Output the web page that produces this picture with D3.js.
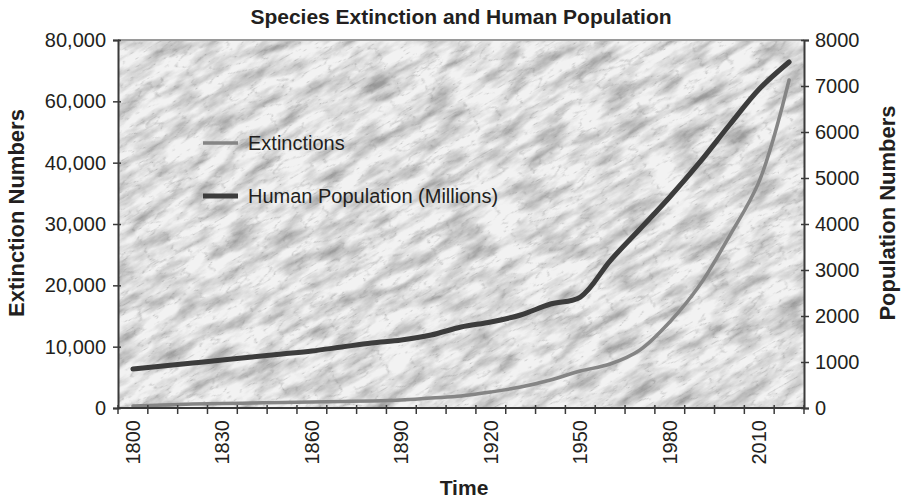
<!DOCTYPE html>
<html><head><meta charset="utf-8">
<script src="https://cdn.jsdelivr.net/npm/d3@7"></script>
<style>
html,body{margin:0;padding:0;background:#fff;}
text{font-family:"Liberation Sans",Arial,sans-serif;fill:#231f20;}
</style></head>
<body>
<svg id="c" width="902" height="503"></svg>
<script>
const years = [1800,1810,1820,1830,1840,1850,1860,1870,1880,1890,1900,1910,1920,1930,1940,1950,1960,1970,1980,1990,2000,2010,2020];
const labeledYears = [1800,1830,1860,1890,1920,1950,1980,2010];
const population = [848,913,978,1043,1109,1174,1239,1326,1413,1478,1587,1761,1870,2022,2261,2413,3200,3891,4587,5339,6152,6935,7522];
const extinctions = [330,490,650,730,815,900,980,1060,1140,1300,1630,1960,2610,3420,4570,6030,7170,9460,14030,20000,28040,37000,66950];
const leftTicks = [0,10000,20000,30000,40000,60000,80000];
const rightTicks = [0,1000,2000,3000,4000,5000,6000,7000,8000];

const svg = d3.select("#c");
const L=118, R=804, T=40, B=408;

const x = d3.scaleBand().domain(years).range([L,R]).padding(0);
const yL = d3.scaleLinear().domain(leftTicks).range(leftTicks.map((d,i)=>B-(B-T)*i/(leftTicks.length-1)));
const yR = d3.scaleLinear().domain([0,8000]).range([B,T]);

// textured background
const defs = svg.append("defs");
const f = defs.append("filter").attr("id","stone").attr("x",0).attr("y",0).attr("width",1).attr("height",1);
f.append("feTurbulence").attr("type","fractalNoise").attr("baseFrequency","0.025 0.075").attr("numOctaves",5).attr("seed",11).attr("result","n");
f.append("feColorMatrix").attr("in","n").attr("type","matrix")
 .attr("values","0 0 0 0 0  0 0 0 0 0  0 0 0 0 0  2.0 0 0 0 -0.75").attr("result","a");
f.append("feFlood").attr("flood-color","#9a9a9a").attr("result","fl");
f.append("feComposite").attr("in","fl").attr("in2","a").attr("operator","in").attr("result","dark");
f.append("feTurbulence").attr("type","turbulence").attr("baseFrequency","0.04 0.12").attr("numOctaves",3).attr("seed",3).attr("result","t");
f.append("feColorMatrix").attr("in","t").attr("type","matrix")
 .attr("values","0 0 0 0 0  0 0 0 0 0  0 0 0 0 0  -3 0 0 0 0.5").attr("result","ta");
f.append("feFlood").attr("flood-color","#8a8a8a").attr("result","fl2");
f.append("feComposite").attr("in","fl2").attr("in2","ta").attr("operator","in").attr("result","cracks");
f.append("feMerge").selectAll("feMergeNode").data(["SourceGraphic","dark","cracks"]).join("feMergeNode").attr("in",d=>d);
defs.append("clipPath").attr("id","pc").append("rect").attr("x",L).attr("y",T).attr("width",R-L).attr("height",B-T);

const bg = svg.append("g").attr("clip-path","url(#pc)");
bg.append("rect").attr("x",L).attr("y",T).attr("width",R-L).attr("height",B-T).attr("fill","#eeeeee");
bg.append("g").attr("transform",`rotate(-30 ${(L+R)/2} ${(T+B)/2})`)
  .append("rect").attr("x",L-250).attr("y",T-350).attr("width",R-L+500).attr("height",B-T+700)
  .attr("fill","#f2f2f2").attr("filter","url(#stone)");

// top border
svg.append("line").attr("x1",L).attr("x2",R).attr("y1",T).attr("y2",T).attr("stroke","#9a9a9a").attr("stroke-width",2);

// lines
const lineE = d3.line().x((d,i)=>x(years[i])+x.bandwidth()/2).y(d=>yL(d)).curve(d3.curveCatmullRom.alpha(0.5));
const lineP = d3.line().x((d,i)=>x(years[i])+x.bandwidth()/2).y(d=>yR(d)).curve(d3.curveCatmullRom.alpha(0.5));
svg.append("path").datum(extinctions).attr("d",lineE).attr("fill","none").attr("stroke","#858585").attr("stroke-width",3.5).attr("stroke-linecap","round");
svg.append("path").datum(population).attr("d",lineP).attr("fill","none").attr("stroke","#3c3c3c").attr("stroke-width",5).attr("stroke-linecap","round");

// axes
const axisColor="#3a3a3a";
const gl = svg.append("g").attr("transform",`translate(${L},0)`).call(d3.axisLeft(yL).tickValues(leftTicks).tickSize(5).tickPadding(7).tickFormat(d3.format(",")));
const gr = svg.append("g").attr("transform",`translate(${R},0)`).call(d3.axisRight(yR).tickValues(rightTicks).tickSize(5).tickPadding(6).tickFormat(d3.format("d")));
[gl,gr].forEach(g=>{
  g.select(".domain").attr("stroke",axisColor).attr("stroke-width",2);
  g.selectAll(".tick line").attr("stroke",axisColor).attr("stroke-width",1.5);
  g.selectAll(".tick text").style("font-size","20px").attr("fill","#231f20");
});
gl.selectAll(".tick line").attr("x1",3);
gr.selectAll(".tick line").attr("x1",-3);

// bottom axis
const gb = svg.append("g");
gb.append("line").attr("x1",L).attr("x2",R).attr("y1",B).attr("y2",B).attr("stroke",axisColor).attr("stroke-width",2);
gb.selectAll("line.t").data(years.concat([null])).join("line").attr("class","t")
  .attr("x1",(d,i)=> i<years.length? x(d): R).attr("x2",(d,i)=> i<years.length? x(d): R)
  .attr("y1",B-3).attr("y2",B+6).attr("stroke",axisColor).attr("stroke-width",1.5);
gb.selectAll("text").data(labeledYears).join("text")
  .attr("transform",d=>`translate(${x(d)+x.bandwidth()/2+7},${B+12}) rotate(-90)`)
  .attr("text-anchor","end").style("font-size","20px").text(d=>d);

// titles
svg.append("text").attr("x",461).attr("y",24).attr("text-anchor","middle").style("font-size","21px").style("font-weight","bold").text("Species Extinction and Human Population");
svg.append("text").attr("x",464).attr("y",495).attr("text-anchor","middle").style("font-size","21px").style("font-weight","bold").text("Time");
svg.append("text").attr("transform","translate(24,213) rotate(-90)").attr("text-anchor","middle").style("font-size","22px").style("font-weight","bold").text("Extinction Numbers");
svg.append("text").attr("transform","translate(895,213) rotate(-90)").attr("text-anchor","middle").style("font-size","22px").style("font-weight","bold").text("Population Numbers");

// legend
const leg = [{name:"Extinctions",color:"#858585",w:3.5,y:143},{name:"Human Population (Millions)",color:"#3c3c3c",w:5,y:196}];
const lg = svg.append("g");
lg.selectAll("line").data(leg).join("line").attr("x1",203).attr("x2",238).attr("y1",d=>d.y).attr("y2",d=>d.y).attr("stroke",d=>d.color).attr("stroke-width",d=>d.w);
lg.selectAll("text").data(leg).join("text").attr("x",248).attr("y",d=>d.y+7).style("font-size","20px").text(d=>d.name);
</script>
</body></html>
